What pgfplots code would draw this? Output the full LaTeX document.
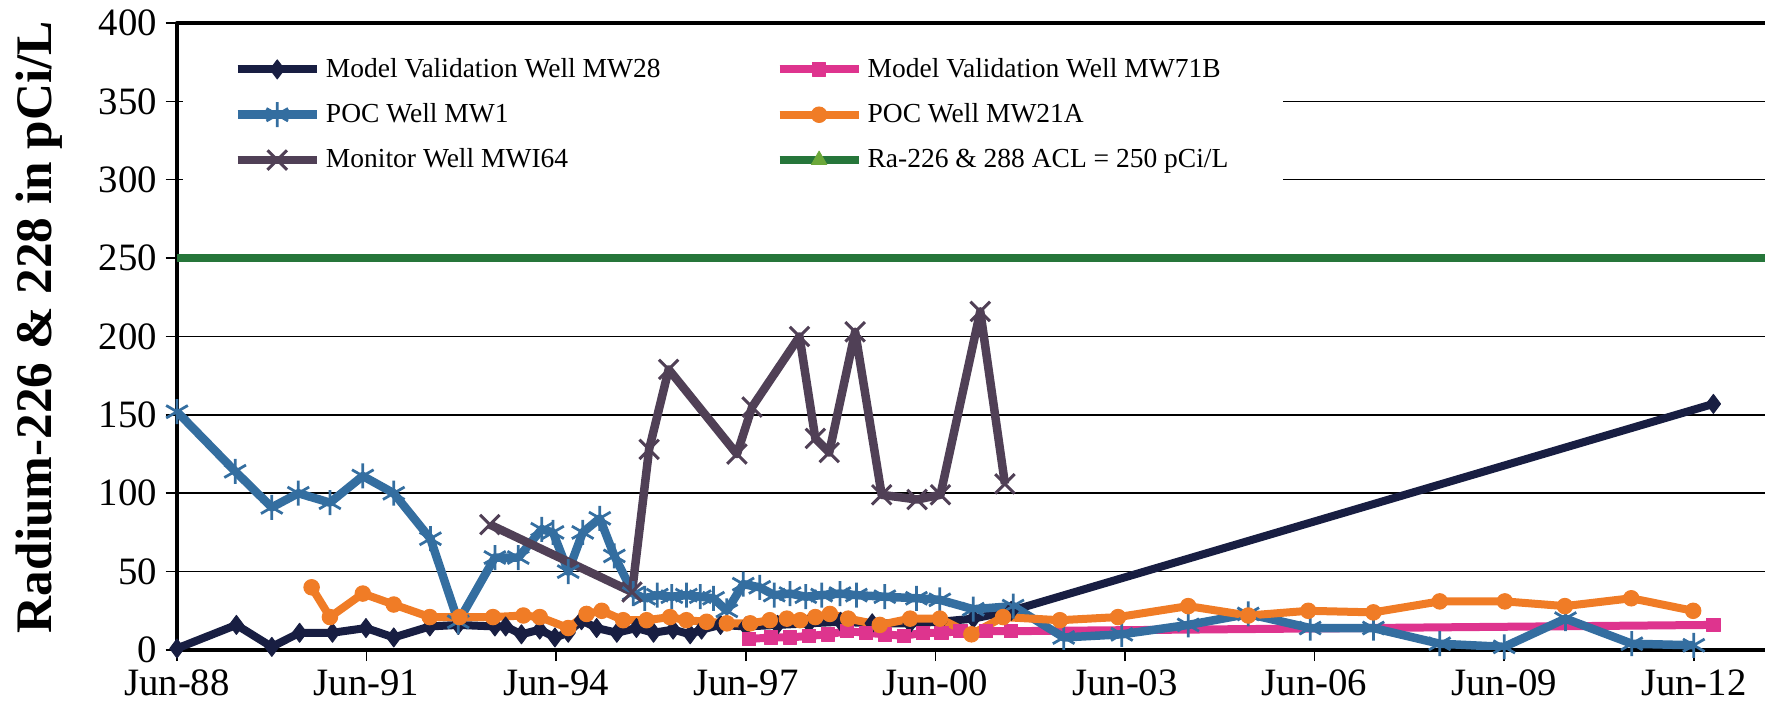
\documentclass[border=0pt]{standalone}
\usepackage{fontspec}
\setmainfont{Liberation Serif}
\usepackage{pgfplots}
\pgfplotsset{compat=1.18}

\definecolor{wnavy}{RGB}{24,30,66}
\definecolor{wpink}{RGB}{222,52,142}
\definecolor{wblue}{RGB}{52,110,160}
\definecolor{worange}{RGB}{240,124,38}
\definecolor{wpurple}{RGB}{80,64,86}
\definecolor{wgreen}{RGB}{38,118,58}
\definecolor{wltgreen}{RGB}{108,168,58}

% x = years since Jun-88
\begin{document}
\begin{tikzpicture}
\begin{axis}[
  name=ax,
  scale only axis,
  width=637.2pt, height=250.8pt,
  xmin=0, xmax=25.206, ymin=0, ymax=400,
  xtick={0,3,...,24},
  xticklabels={Jun-88,Jun-91,Jun-94,Jun-97,Jun-00,Jun-03,Jun-06,Jun-09,Jun-12},
  ytick={0,50,...,400},
  xtick pos=bottom, ytick pos=left,
  tick align=outside, major tick length=4.5pt,
  tick style={black, line width=0.6pt},
  ymajorgrids, grid style={black, line width=0.6pt},
  axis line style={line width=1.6pt},
  /pgf/number format/assume math mode=true,
  tick label style={font=\fontsize{15.5}{18}\selectfont},
  ylabel={Radium-226 \& 228 in pCi/L},
  every axis y label/.style={at={([xshift=-55.2pt,yshift=3.8pt]axis description cs:0,0.5)},
    rotate=90, anchor=center, font=\bfseries\fontsize{20.5}{24}\selectfont},
  legend columns=2,
  legend cell align=left,
  legend image code/.code={\draw[mark repeat=2,mark phase=2,#1] plot coordinates {(0pt,0pt) (15.8pt,0pt) (31.6pt,0pt)};},
  legend style={at={([xshift=2.4pt,yshift=-2.8pt]axis description cs:0,1)}, anchor=north west,
    draw=none, fill=white, inner xsep=20pt, inner ysep=9pt,
    font=\fontsize{11}{13}\selectfont, row sep=5pt,
    /tikz/column 2/.style={column sep=44pt}},
  line join=round,
]
\addplot[wnavy, line width=3.2pt, mark=diamond*, mark size=3.8pt, mark options={solid, line width=0.4pt}] coordinates {
 (0.00,1) (0.94,16) (1.50,2) (1.94,11) (2.46,11) (2.99,14) (3.43,8) (4.00,15) (4.45,16)
 (5.03,15) (5.20,15) (5.45,10) (5.74,13) (5.98,8) (6.19,11) (6.40,19) (6.64,14) (6.96,11)
 (7.27,14) (7.54,11) (7.85,13) (8.12,10) (8.30,13) (8.60,16) (9.00,15) (9.50,16) (10.00,17)
 (10.50,18) (11.00,17) (11.60,17) (12.07,18) (12.60,20) (13.20,25) (24.31,157)};
\addlegendentry{Model Validation Well MW28}
\addplot[wpink, line width=3.2pt, mark=square*, mark size=2.7pt, mark options={solid, line width=0.4pt}] coordinates {
 (9.05,7) (9.40,8) (9.70,8) (10.00,9) (10.30,10) (10.60,12) (10.90,11) (11.20,10) (11.50,9)
 (11.80,11) (12.10,11) (12.40,12) (12.80,12) (13.20,12) (24.31,16)};
\addlegendentry{Model Validation Well MW71B}
\addplot[wblue, line width=3.4pt, mark=asterisk, mark size=5pt, mark options={solid, line width=1.1pt}] coordinates {
 (0.00,152) (0.92,114) (1.50,91) (1.92,100) (2.42,94) (2.94,111) (3.43,100) (4.01,71) (4.45,18)
 (5.03,59) (5.40,59) (5.77,77) (5.95,75) (6.19,50) (6.42,75) (6.69,84) (6.92,60) (7.22,36)
 (7.40,33) (7.60,35) (7.83,34) (8.06,35) (8.28,34) (8.49,33) (8.70,25) (8.96,42) (9.22,40)
 (9.45,35) (9.70,36) (9.95,34) (10.20,35) (10.49,36) (10.75,35) (11.20,34) (11.70,33)
 (12.07,32) (12.60,26) (13.23,28) (14.03,8) (14.95,10) (16.00,16) (16.95,23) (17.93,14)
 (18.93,14) (19.98,4) (21.00,2) (21.97,20) (23.02,4) (24.00,3)};
\addlegendentry{POC Well MW1}
\addplot[worange, line width=3.2pt, mark=*, mark size=3.1pt, mark options={solid, line width=0.4pt}] coordinates {
 (2.13,40) (2.42,21) (2.94,36) (3.43,29) (4.00,21) (4.47,21) (5.00,21) (5.48,22) (5.74,21)
 (6.19,14) (6.48,23) (6.72,25) (7.06,19) (7.43,19) (7.80,21) (8.06,19) (8.38,18) (8.70,17)
 (9.07,17) (9.38,19) (9.65,20) (9.86,19) (10.10,21) (10.33,23) (10.62,20) (11.12,16) (11.60,20)
 (12.07,20) (12.57,10) (13.07,21) (13.97,19) (14.89,21) (16.00,28) (16.95,22) (17.90,25)
 (18.93,24) (19.98,31) (21.01,31) (21.96,28) (23.01,33) (23.99,25)};
\addlegendentry{POC Well MW21A}
\addplot[wpurple, line width=3.4pt, mark=x, mark size=5.5pt, mark options={solid, line width=1.2pt}] coordinates {
 (4.95,80) (7.20,37) (7.47,128) (7.78,179) (8.86,125) (9.10,155) (9.85,200) (10.10,135)
 (10.32,126) (10.73,203) (11.15,99) (11.71,96) (12.08,99) (12.71,216) (13.10,106)};
\addlegendentry{Monitor Well MWI64}
\addplot[wgreen, line width=3.4pt, forget plot] coordinates {(0,250) (25.206,250)};
\addlegendimage{wgreen, line width=3.2pt, mark=triangle*, mark size=3.6pt, mark options={solid, line width=0.3pt, fill=wltgreen, draw=wltgreen}}
\addlegendentry{Ra-226 \& 288 ACL = 250 pCi/L}
\end{axis}
\pgfresetboundingbox
\path[use as bounding box] ([xshift=-70.8pt,yshift=-25.6pt]ax.south west) rectangle ([xshift=-2pt,yshift=9.2pt]ax.north east);
\end{tikzpicture}
\end{document}
